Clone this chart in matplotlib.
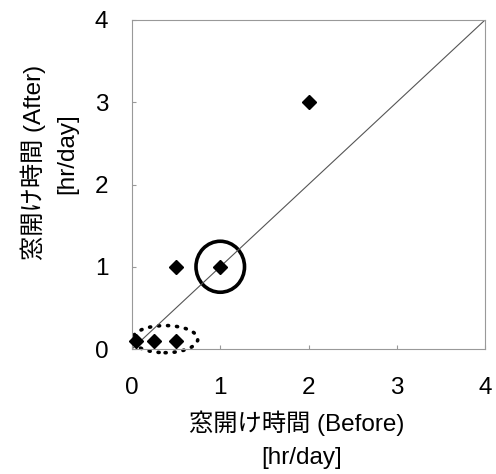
import matplotlib
matplotlib.use('Agg')
import matplotlib.pyplot as plt
from matplotlib.patches import Ellipse

plt.rcParams['font.family'] = ['Liberation Sans', 'Noto Sans CJK JP']

# window opening time [hr/day]
before = [0.05, 0.25, 0.5, 0.5, 1.0, 2.0]
after = [0.1, 0.1, 0.1, 1.0, 1.0, 3.0]
ticks = [0, 1, 2, 3, 4]
xlabel = '窓開け時間 (Before)'
ylabel = '窓開け時間 (After)'
unit = '[hr/day]'

fig = plt.figure(figsize=(4.96, 4.74), dpi=100)
ax = fig.add_axes([132/496, 1-349/474, (485-132)/496, (349-20)/474])

ax.plot([0, 4], [0, 4], color='#555555', lw=0.8)
ax.plot(before, after, 'D', color='black', markersize=7, clip_on=False, zorder=3)

# highlighted points
e1 = Ellipse((1.0, 1.0), 0.55, 0.62, fill=False, ec='black', lw=2.6, clip_on=False)
ax.add_patch(e1)
e2 = Ellipse((0.375, 0.12), 0.74, 0.33, fill=False, ec='black', lw=2.6,
             linestyle=(0, (0.3, 2.2)), clip_on=False)
e2.set_capstyle('round')
ax.add_patch(e2)

ax.set_xlim(0, 4)
ax.set_ylim(0, 4)
ax.set_xticks(ticks)
ax.set_yticks(ticks)
ax.tick_params(direction='in', length=3, color='#999999', labelsize=17.5)
ax.tick_params(axis='x', pad=20)
ax.tick_params(axis='y', pad=17)
for s in ax.spines.values():
    s.set_color('#999999')
    s.set_linewidth(0.8)

fig.text(297/496, 1-423/474, xlabel, ha='center', va='center', fontsize=17.5)
fig.text(302/496, 1-458/474, unit, ha='center', va='center', fontsize=17.5)
fig.text(33/496, 1-162/474, ylabel, ha='center', va='center', fontsize=17.5, rotation=90)
fig.text(67/496, 1-154/474, unit, ha='center', va='center', fontsize=17.5, rotation=90)

fig.savefig('out.png', dpi=100)
